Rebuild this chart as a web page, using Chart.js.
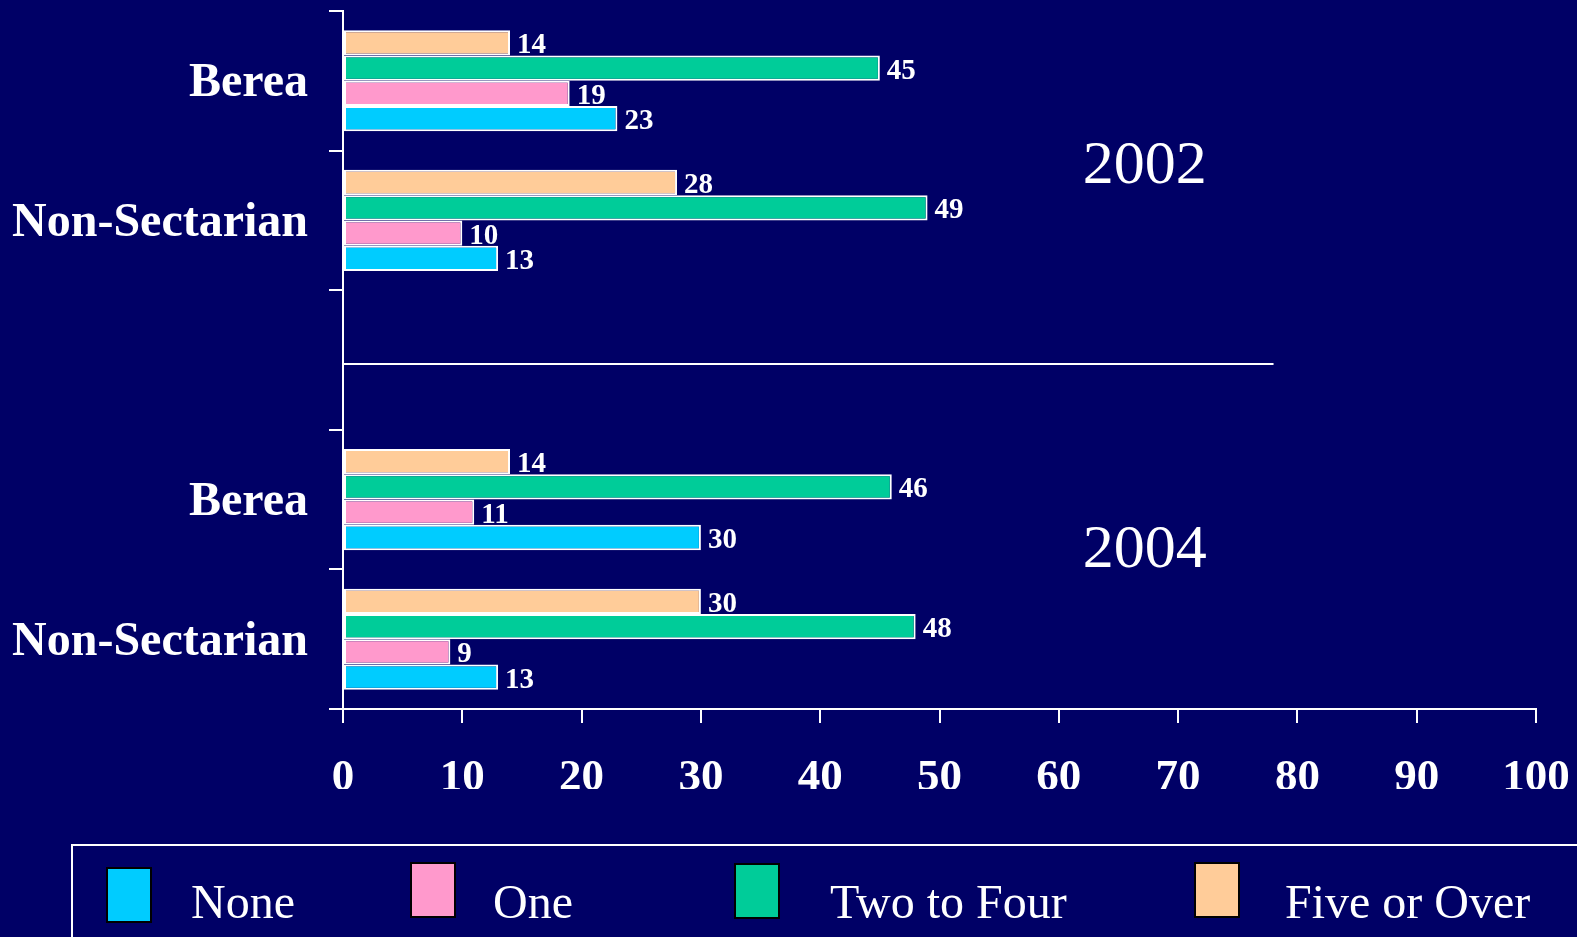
<!DOCTYPE html>
<html>
<head>
<meta charset="utf-8">
<script src="https://cdn.jsdelivr.net/npm/chart.js@4.4.1/dist/chart.umd.min.js"></script>
<style>
  body { margin: 0; background: #000066; overflow: hidden; }
  #wrap { position: relative; width: 1577px; height: 937px; }
  #graphique { position: absolute; left: 0; top: 0; }
  #legend { position: absolute; left: 71px; top: 844px; width: 1600px; height: 200px; border: 2px solid #fff; box-sizing: border-box; }
  .swatch { position: absolute; width: 42px; height: 52px; border: 2px solid #000; }
  .lbl { position: absolute; color: #fff; font: 48px "Liberation Serif", "Times New Roman", serif; line-height: 48px; white-space: nowrap; }
</style>
</head>
<body>
<div id="wrap">
  <canvas id="graphique" width="1577" height="937"></canvas>
  <div id="legend"></div>
</div>
<script>
// categories (empty slot separates the two years)
const categories = ['Berea', 'Non-Sectarian', '', 'Berea', 'Non-Sectarian'];

// series values, same order as categories
const none = [23, 13, null, 30, 13];
const one = [19, 10, null, 11, 9];
const twoToFour = [45, 49, null, 46, 48];
const fiveOrOver = [14, 28, null, 14, 30];

const seriesNames = ['None', 'One', 'Two to Four', 'Five or Over'];
const seriesColors = ['#00CCFF', '#FF99CC', '#00CC99', '#FFCC99'];

const xTicks = [0, 10, 20, 30, 40, 50, 60, 70, 80, 90, 100];

// year captions : text, x value, category position
const yearLabels = [
  { text: '2002', x: 67.2, pos: 0.6 },
  { text: '2004', x: 67.2, pos: 3.35 }
];
const separatorEnd = 78;

// legend (html), left positions of swatch and text
const legendPos = [
  { sw: 106, top: 867, txt: 191 },
  { sw: 410, top: 862, txt: 493 },
  { sw: 734, top: 863, txt: 830 },
  { sw: 1194, top: 862, txt: 1285 }
];
const legend = document.getElementById('legend');
seriesNames.forEach((name, i) => {
  const s = document.createElement('div');
  s.className = 'swatch';
  s.style.left = (legendPos[i].sw - 73) + 'px';
  s.style.top = (legendPos[i].top - 846) + 'px';
  s.style.background = seriesColors[i];
  legend.appendChild(s);
  const t = document.createElement('div');
  t.className = 'lbl';
  t.textContent = name;
  t.style.left = (legendPos[i].txt - 73) + 'px';
  t.style.top = (878 - 846) + 'px';
  legend.appendChild(t);
});

const serif = '"Liberation Serif", "Times New Roman", serif';

// top bar of each group first
const order = [3, 2, 1, 0];
const values = [none, one, twoToFour, fiveOrOver];

const extras = {
  id: 'extras',
  afterDatasetsDraw(chart) {
    const ctx = chart.ctx;
    const xs = chart.scales.x, ys = chart.scales.y;
    ctx.save();
    // valeurs au bout des barres
    ctx.fillStyle = '#fff';
    ctx.font = 'bold 29px ' + serif;
    ctx.textAlign = 'left';
    ctx.textBaseline = 'middle';
    chart.data.datasets.forEach((ds, di) => {
      const meta = chart.getDatasetMeta(di);
      meta.data.forEach((bar, i) => {
        if (ds.data[i] == null) return;
        ctx.fillText(ds.data[i], bar.x + 7, bar.y + 3);
      });
    });
    // ligne de separation
    const yl = ys.getPixelForValue(2) + 4;
    ctx.strokeStyle = '#fff';
    ctx.lineWidth = 2;
    ctx.beginPath();
    ctx.moveTo(xs.getPixelForValue(0), yl);
    ctx.lineTo(xs.getPixelForValue(separatorEnd), yl);
    ctx.stroke();
    // annees
    ctx.font = '62px ' + serif;
    ctx.textAlign = 'center';
    yearLabels.forEach(y => {
      ctx.fillText(y.text, xs.getPixelForValue(y.x), ys.getPixelForValue(y.pos) + 2);
    });
    ctx.restore();
  }
};

new Chart(document.getElementById('graphique'), {
  type: 'bar',
  data: {
    labels: categories,
    datasets: order.map(k => ({
      label: seriesNames[k],
      data: values[k],
      backgroundColor: seriesColors[k],
      borderColor: '#fff',
      borderWidth: 2,
      borderSkipped: false,
      barPercentage: 1,
      categoryPercentage: 0.724
    }))
  },
  options: {
    indexAxis: 'y',
    responsive: false,
    animation: false,
    layout: { padding: { top: 11, right: 41, left: 0, bottom: 148 } },
    plugins: { legend: { display: false }, tooltip: { enabled: false } },
    scales: {
      x: {
        min: 0,
        max: 100,
        afterBuildTicks: s => { s.ticks = xTicks.map(v => ({ value: v })); },
        afterFit: s => { s.height = 80; s.paddingLeft = 0; s.paddingRight = 0; },
        border: { color: '#fff', width: 2 },
        grid: { drawOnChartArea: false, color: '#fff', lineWidth: 2, tickLength: 14 },
        ticks: { color: '#fff', padding: 28, font: { family: serif, size: 45, weight: 'bold' } }
      },
      y: {
        afterFit: s => { s.width = 343; s.paddingTop = 0; s.paddingBottom = 0; },
        border: { color: '#fff', width: 2 },
        grid: { drawOnChartArea: false, color: '#fff', lineWidth: 2, tickLength: 14, offset: true },
        ticks: { color: '#fff', padding: 21, labelOffset: 3, font: { family: serif, size: 48, weight: 'bold' } }
      }
    }
  },
  plugins: [extras]
});
</script>
</body>
</html>
